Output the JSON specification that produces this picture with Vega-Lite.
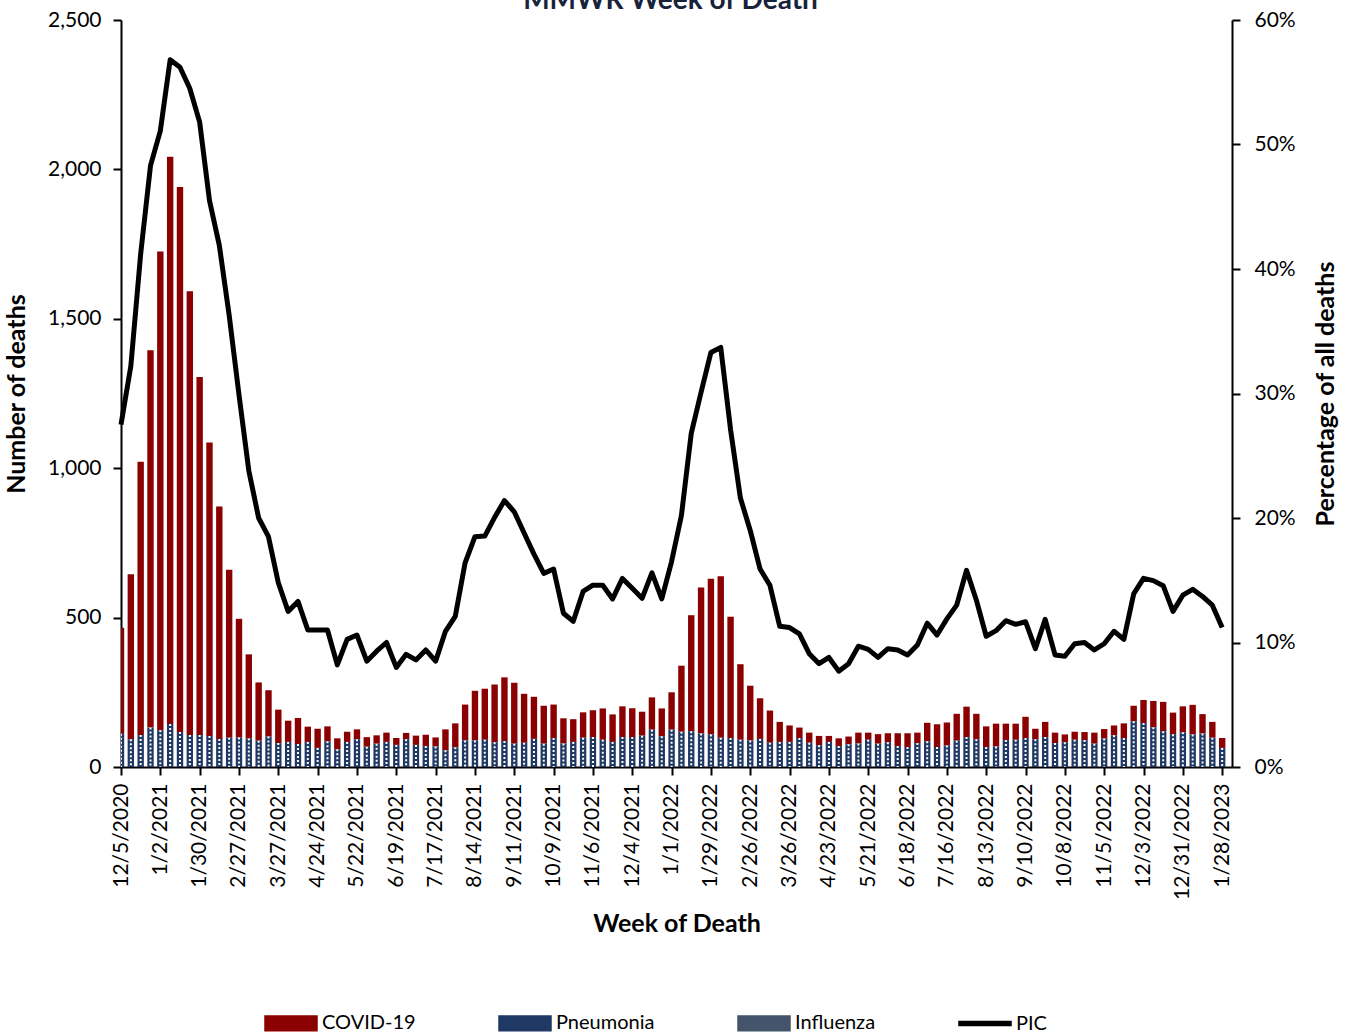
{
  "$schema": "https://vega.github.io/schema/vega-lite/v6.json",
  "width": 1111,
  "height": 747,
  "autosize": {"type": "none"},
  "padding": {"left": 121, "top": 20, "right": 117, "bottom": 267},
  "background": "white",
  "title": {"text": "MMWR Week of Death", "font": "Lato", "fontSize": 28, "fontWeight": "bold", "color": "#17223b", "anchor": "middle", "baseline": "alphabetic", "offset": 2, "dy": 30, "dx": -6},
  "config": {
    "view": {"stroke": null},
    "axis": {"domainColor": "black", "domainWidth": 2, "tickColor": "black", "tickWidth": 2, "tickSize": 8, "labelColor": "black", "labelFont": "Lato", "labelFontSize": 21, "titleFont": "Lato", "titleFontSize": 25, "titleFontWeight": "bold", "titleColor": "black", "grid": false},
    "axisX": {"labelOverlap": false}
  },
  "datasets": {
    "weeks": [
      {"week":"2020-12-05","COVID-19":355,"Pneumonia":111,"Influenza":0,"PIC":27.5},
      {"week":"2020-12-12","COVID-19":552,"Pneumonia":93,"Influenza":0,"PIC":32.2},
      {"week":"2020-12-19","COVID-19":915,"Pneumonia":107,"Influenza":0,"PIC":41.2},
      {"week":"2020-12-26","COVID-19":1263,"Pneumonia":132,"Influenza":0,"PIC":48.3},
      {"week":"2021-01-02","COVID-19":1602,"Pneumonia":123,"Influenza":0,"PIC":51.1},
      {"week":"2021-01-09","COVID-19":1898,"Pneumonia":144,"Influenza":0,"PIC":56.8},
      {"week":"2021-01-16","COVID-19":1824,"Pneumonia":117,"Influenza":0,"PIC":56.2},
      {"week":"2021-01-23","COVID-19":1485,"Pneumonia":107,"Influenza":0,"PIC":54.5},
      {"week":"2021-01-30","COVID-19":1198,"Pneumonia":107,"Influenza":0,"PIC":51.8},
      {"week":"2021-02-06","COVID-19":982,"Pneumonia":104,"Influenza":0,"PIC":45.5},
      {"week":"2021-02-13","COVID-19":778,"Pneumonia":94,"Influenza":0,"PIC":41.9},
      {"week":"2021-02-20","COVID-19":562,"Pneumonia":98,"Influenza":0,"PIC":36.3},
      {"week":"2021-02-27","COVID-19":397,"Pneumonia":99,"Influenza":0,"PIC":29.9},
      {"week":"2021-03-06","COVID-19":282,"Pneumonia":95,"Influenza":0,"PIC":23.8},
      {"week":"2021-03-13","COVID-19":195,"Pneumonia":88,"Influenza":0,"PIC":20.0},
      {"week":"2021-03-20","COVID-19":155,"Pneumonia":102,"Influenza":0,"PIC":18.5},
      {"week":"2021-03-27","COVID-19":112,"Pneumonia":80,"Influenza":0,"PIC":14.8},
      {"week":"2021-04-03","COVID-19":71,"Pneumonia":84,"Influenza":0,"PIC":12.5},
      {"week":"2021-04-10","COVID-19":87,"Pneumonia":77,"Influenza":0,"PIC":13.3},
      {"week":"2021-04-17","COVID-19":51,"Pneumonia":84,"Influenza":0,"PIC":11.0},
      {"week":"2021-04-24","COVID-19":64,"Pneumonia":64,"Influenza":0,"PIC":11.0},
      {"week":"2021-05-01","COVID-19":50,"Pneumonia":86,"Influenza":0,"PIC":11.0},
      {"week":"2021-05-08","COVID-19":37,"Pneumonia":59,"Influenza":0,"PIC":8.2},
      {"week":"2021-05-15","COVID-19":34,"Pneumonia":84,"Influenza":0,"PIC":10.25},
      {"week":"2021-05-22","COVID-19":33,"Pneumonia":93,"Influenza":0,"PIC":10.6},
      {"week":"2021-05-29","COVID-19":32,"Pneumonia":68,"Influenza":0,"PIC":8.5},
      {"week":"2021-06-05","COVID-19":28,"Pneumonia":78,"Influenza":0,"PIC":9.3},
      {"week":"2021-06-12","COVID-19":31,"Pneumonia":84,"Influenza":0,"PIC":10.0},
      {"week":"2021-06-19","COVID-19":23,"Pneumonia":74,"Influenza":0,"PIC":8.0},
      {"week":"2021-06-26","COVID-19":21,"Pneumonia":93,"Influenza":0,"PIC":9.05},
      {"week":"2021-07-03","COVID-19":31,"Pneumonia":74,"Influenza":0,"PIC":8.6},
      {"week":"2021-07-10","COVID-19":38,"Pneumonia":70,"Influenza":0,"PIC":9.4},
      {"week":"2021-07-17","COVID-19":30,"Pneumonia":69,"Influenza":0,"PIC":8.5},
      {"week":"2021-07-24","COVID-19":70,"Pneumonia":56,"Influenza":0,"PIC":10.9},
      {"week":"2021-07-31","COVID-19":80,"Pneumonia":66,"Influenza":0,"PIC":12.1},
      {"week":"2021-08-07","COVID-19":120,"Pneumonia":89,"Influenza":0,"PIC":16.4},
      {"week":"2021-08-14","COVID-19":166,"Pneumonia":89,"Influenza":0,"PIC":18.5},
      {"week":"2021-08-21","COVID-19":171,"Pneumonia":91,"Influenza":0,"PIC":18.55},
      {"week":"2021-08-28","COVID-19":193,"Pneumonia":83,"Influenza":0,"PIC":20.05},
      {"week":"2021-09-04","COVID-19":213,"Pneumonia":87,"Influenza":0,"PIC":21.4},
      {"week":"2021-09-11","COVID-19":204,"Pneumonia":78,"Influenza":0,"PIC":20.5},
      {"week":"2021-09-18","COVID-19":164,"Pneumonia":81,"Influenza":0,"PIC":18.8},
      {"week":"2021-09-25","COVID-19":141,"Pneumonia":94,"Influenza":0,"PIC":17.1},
      {"week":"2021-10-02","COVID-19":127,"Pneumonia":78,"Influenza":0,"PIC":15.55},
      {"week":"2021-10-09","COVID-19":112,"Pneumonia":97,"Influenza":0,"PIC":15.9},
      {"week":"2021-10-16","COVID-19":84,"Pneumonia":79,"Influenza":0,"PIC":12.35},
      {"week":"2021-10-23","COVID-19":76,"Pneumonia":84,"Influenza":0,"PIC":11.7},
      {"week":"2021-10-30","COVID-19":85,"Pneumonia":98,"Influenza":0,"PIC":14.1},
      {"week":"2021-11-06","COVID-19":90,"Pneumonia":100,"Influenza":0,"PIC":14.6},
      {"week":"2021-11-13","COVID-19":105,"Pneumonia":91,"Influenza":0,"PIC":14.6},
      {"week":"2021-11-20","COVID-19":92,"Pneumonia":84,"Influenza":0,"PIC":13.5},
      {"week":"2021-11-27","COVID-19":103,"Pneumonia":100,"Influenza":0,"PIC":15.15},
      {"week":"2021-12-04","COVID-19":97,"Pneumonia":100,"Influenza":0,"PIC":14.35},
      {"week":"2021-12-11","COVID-19":80,"Pneumonia":105,"Influenza":0,"PIC":13.55},
      {"week":"2021-12-18","COVID-19":108,"Pneumonia":125,"Influenza":0,"PIC":15.6},
      {"week":"2021-12-25","COVID-19":93,"Pneumonia":103,"Influenza":0,"PIC":13.5},
      {"week":"2022-01-01","COVID-19":125,"Pneumonia":125,"Influenza":0,"PIC":16.5},
      {"week":"2022-01-08","COVID-19":221,"Pneumonia":118,"Influenza":0,"PIC":20.2},
      {"week":"2022-01-15","COVID-19":388,"Pneumonia":120,"Influenza":0,"PIC":26.8},
      {"week":"2022-01-22","COVID-19":489,"Pneumonia":112,"Influenza":0,"PIC":30.1},
      {"week":"2022-01-29","COVID-19":521,"Pneumonia":109,"Influenza":0,"PIC":33.3},
      {"week":"2022-02-05","COVID-19":540,"Pneumonia":98,"Influenza":0,"PIC":33.7},
      {"week":"2022-02-12","COVID-19":406,"Pneumonia":97,"Influenza":0,"PIC":27.1},
      {"week":"2022-02-19","COVID-19":253,"Pneumonia":91,"Influenza":0,"PIC":21.6},
      {"week":"2022-02-26","COVID-19":183,"Pneumonia":89,"Influenza":0,"PIC":19.0},
      {"week":"2022-03-05","COVID-19":136,"Pneumonia":94,"Influenza":0,"PIC":15.9},
      {"week":"2022-03-12","COVID-19":108,"Pneumonia":81,"Influenza":0,"PIC":14.6},
      {"week":"2022-03-19","COVID-19":67,"Pneumonia":84,"Influenza":0,"PIC":11.3},
      {"week":"2022-03-26","COVID-19":55,"Pneumonia":84,"Influenza":0,"PIC":11.2},
      {"week":"2022-04-02","COVID-19":35,"Pneumonia":97,"Influenza":0,"PIC":10.7},
      {"week":"2022-04-09","COVID-19":34,"Pneumonia":81,"Influenza":0,"PIC":9.1},
      {"week":"2022-04-16","COVID-19":31,"Pneumonia":73,"Influenza":0,"PIC":8.3},
      {"week":"2022-04-23","COVID-19":20,"Pneumonia":84,"Influenza":0,"PIC":8.8},
      {"week":"2022-04-30","COVID-19":26,"Pneumonia":70,"Influenza":0,"PIC":7.7},
      {"week":"2022-05-07","COVID-19":26,"Pneumonia":76,"Influenza":0,"PIC":8.3},
      {"week":"2022-05-14","COVID-19":36,"Pneumonia":79,"Influenza":0,"PIC":9.7},
      {"week":"2022-05-21","COVID-19":24,"Pneumonia":91,"Influenza":0,"PIC":9.45},
      {"week":"2022-05-28","COVID-19":32,"Pneumonia":78,"Influenza":0,"PIC":8.8},
      {"week":"2022-06-04","COVID-19":30,"Pneumonia":83,"Influenza":0,"PIC":9.5},
      {"week":"2022-06-11","COVID-19":43,"Pneumonia":70,"Influenza":0,"PIC":9.4},
      {"week":"2022-06-18","COVID-19":46,"Pneumonia":67,"Influenza":0,"PIC":9.0},
      {"week":"2022-06-25","COVID-19":35,"Pneumonia":80,"Influenza":0,"PIC":9.8},
      {"week":"2022-07-02","COVID-19":62,"Pneumonia":86,"Influenza":0,"PIC":11.55},
      {"week":"2022-07-09","COVID-19":76,"Pneumonia":67,"Influenza":0,"PIC":10.6},
      {"week":"2022-07-16","COVID-19":77,"Pneumonia":72,"Influenza":0,"PIC":11.9},
      {"week":"2022-07-23","COVID-19":90,"Pneumonia":88,"Influenza":0,"PIC":13.0},
      {"week":"2022-07-30","COVID-19":102,"Pneumonia":100,"Influenza":0,"PIC":15.8},
      {"week":"2022-08-06","COVID-19":85,"Pneumonia":93,"Influenza":0,"PIC":13.4},
      {"week":"2022-08-13","COVID-19":69,"Pneumonia":67,"Influenza":0,"PIC":10.5},
      {"week":"2022-08-20","COVID-19":76,"Pneumonia":69,"Influenza":0,"PIC":10.95},
      {"week":"2022-08-27","COVID-19":55,"Pneumonia":90,"Influenza":0,"PIC":11.75},
      {"week":"2022-09-03","COVID-19":54,"Pneumonia":91,"Influenza":0,"PIC":11.46},
      {"week":"2022-09-10","COVID-19":71,"Pneumonia":97,"Influenza":0,"PIC":11.67},
      {"week":"2022-09-17","COVID-19":35,"Pneumonia":93,"Influenza":0,"PIC":9.5},
      {"week":"2022-09-24","COVID-19":51,"Pneumonia":100,"Influenza":0,"PIC":11.86},
      {"week":"2022-10-01","COVID-19":35,"Pneumonia":80,"Influenza":0,"PIC":9.0},
      {"week":"2022-10-08","COVID-19":26,"Pneumonia":83,"Influenza":0,"PIC":8.9},
      {"week":"2022-10-15","COVID-19":27,"Pneumonia":91,"Influenza":0,"PIC":9.9},
      {"week":"2022-10-22","COVID-19":27,"Pneumonia":90,"Influenza":0,"PIC":10.0},
      {"week":"2022-10-29","COVID-19":37,"Pneumonia":78,"Influenza":0,"PIC":9.4},
      {"week":"2022-11-05","COVID-19":32,"Pneumonia":95,"Influenza":0,"PIC":9.9},
      {"week":"2022-11-12","COVID-19":33,"Pneumonia":106,"Influenza":0,"PIC":10.9},
      {"week":"2022-11-19","COVID-19":49,"Pneumonia":97,"Influenza":0,"PIC":10.25},
      {"week":"2022-11-26","COVID-19":52,"Pneumonia":153,"Influenza":0,"PIC":13.9},
      {"week":"2022-12-03","COVID-19":77,"Pneumonia":147,"Influenza":0,"PIC":15.15},
      {"week":"2022-12-10","COVID-19":88,"Pneumonia":133,"Influenza":0,"PIC":14.97},
      {"week":"2022-12-17","COVID-19":98,"Pneumonia":120,"Influenza":0,"PIC":14.56},
      {"week":"2022-12-24","COVID-19":72,"Pneumonia":110,"Influenza":0,"PIC":12.5},
      {"week":"2022-12-31","COVID-19":87,"Pneumonia":116,"Influenza":0,"PIC":13.8},
      {"week":"2023-01-07","COVID-19":99,"Pneumonia":109,"Influenza":0,"PIC":14.27},
      {"week":"2023-01-14","COVID-19":65,"Pneumonia":112,"Influenza":0,"PIC":13.7},
      {"week":"2023-01-21","COVID-19":53,"Pneumonia":98,"Influenza":0,"PIC":13.0},
      {"week":"2023-01-28","COVID-19":33,"Pneumonia":64,"Influenza":0,"PIC":11.2}
    ]
  },
  "data": {"name": "weeks"},
  "encoding": {
    "x": {"field": "week", "type": "temporal", "title": "Week of Death",
      "scale": {"type": "utc", "padding": 0, "domain": [{"year": 2020, "month": 12, "date": 5, "utc": true}, {"year": 2023, "month": 2, "date": 4, "utc": true}]},
      "axis": {"labelExpr": "utcFormat(datum.value, '%-m/%-d/%Y')", "labelAngle": -90, "labelPadding": 8, "titlePadding": 12, "labelOverlap": false,
        "values": [
          {"year":2020,"month":12,"date":5,"utc":true},{"year":2021,"month":1,"date":2,"utc":true},{"year":2021,"month":1,"date":30,"utc":true},
          {"year":2021,"month":2,"date":27,"utc":true},{"year":2021,"month":3,"date":27,"utc":true},{"year":2021,"month":4,"date":24,"utc":true},
          {"year":2021,"month":5,"date":22,"utc":true},{"year":2021,"month":6,"date":19,"utc":true},{"year":2021,"month":7,"date":17,"utc":true},
          {"year":2021,"month":8,"date":14,"utc":true},{"year":2021,"month":9,"date":11,"utc":true},{"year":2021,"month":10,"date":9,"utc":true},
          {"year":2021,"month":11,"date":6,"utc":true},{"year":2021,"month":12,"date":4,"utc":true},{"year":2022,"month":1,"date":1,"utc":true},
          {"year":2022,"month":1,"date":29,"utc":true},{"year":2022,"month":2,"date":26,"utc":true},{"year":2022,"month":3,"date":26,"utc":true},
          {"year":2022,"month":4,"date":23,"utc":true},{"year":2022,"month":5,"date":21,"utc":true},{"year":2022,"month":6,"date":18,"utc":true},
          {"year":2022,"month":7,"date":16,"utc":true},{"year":2022,"month":8,"date":13,"utc":true},{"year":2022,"month":9,"date":10,"utc":true},
          {"year":2022,"month":10,"date":8,"utc":true},{"year":2022,"month":11,"date":5,"utc":true},{"year":2022,"month":12,"date":3,"utc":true},
          {"year":2022,"month":12,"date":31,"utc":true},{"year":2023,"month":1,"date":28,"utc":true}
        ]}}
  },
  "layer": [
    {
      "layer": [
        {
          "transform": [{"fold": ["COVID-19", "Pneumonia", "Influenza"], "as": ["cause", "deaths"]}],
          "mark": {"type": "bar", "width": 6.4, "clip": true},
          "encoding": {
            "y": {"field": "deaths", "type": "quantitative", "stack": "zero", "title": "Number of deaths",
              "scale": {"domain": [0, 2500], "nice": false},
              "axis": {"values": [0, 500, 1000, 1500, 2000, 2500], "format": ",d", "labelPadding": 12, "titlePadding": 18}},
            "color": {"field": "cause", "type": "nominal",
              "scale": {"domain": ["COVID-19", "Pneumonia", "Influenza", "PIC"], "range": ["#8b0000", "#1f3864", "#44546a", "#000000"]},
              "legend": {"title": null, "orient": "none", "legendX": 143, "legendY": 976, "direction": "horizontal",
                "symbolSize": 2704, "labelFont": "Lato", "labelFontSize": 20, "labelColor": "black", "labelOffset": 4, "columnPadding": 80,
                "encode": {"symbols": {"update": {
                  "shape": {"signal": "datum.value === 'PIC' ? 'M-1,-0.08H1V0.08H-1Z' : 'M-1,-0.28H1V0.28H-1Z'"},
                  "fill": {"signal": "scale('color', datum.value)"},
                  "stroke": {"value": "transparent"},
                  "opacity": {"value": 1}}}}}},
            "order": {"field": "cause", "sort": "descending"}
          }
        },
        {
          "mark": {"type": "rule", "clip": true, "color": "white", "strokeWidth": 2, "strokeDash": [2, 2]},
          "encoding": {
            "y": {"field": "Pneumonia", "type": "quantitative", "title": "Number of deaths"},
            "y2": {"datum": 0}
          }
        }
      ]
    },
    {
      "mark": {"type": "line", "strokeWidth": 5, "strokeJoin": "round"},
      "encoding": {
        "y": {"field": "PIC", "type": "quantitative", "title": "Percentage of all deaths",
          "scale": {"domain": [0, 60], "nice": false},
          "axis": {"orient": "right", "titleAngle": -90, "titleBaseline": "top", "values": [0, 10, 20, 30, 40, 50, 60], "labelExpr": "datum.value + '%'", "labelPadding": 14, "titlePadding": 18}},
        "color": {"datum": "PIC"}
      }
    }
  ],
  "resolve": {"scale": {"y": "independent"}}
}
